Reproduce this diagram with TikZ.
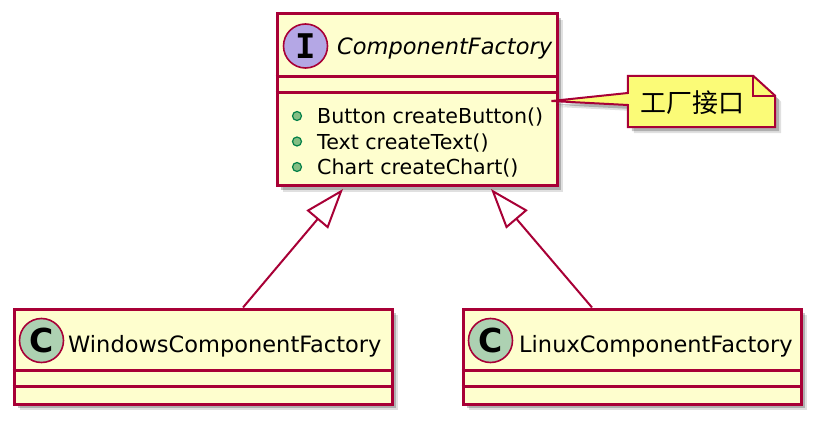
\documentclass[tikz,border=0pt]{standalone}
\usepackage{fontspec}
\setmainfont{DejaVu Sans}
\setmonofont{DejaVu Sans Mono}
\newfontfamily\notefont{Noto Sans CJK SC}
\usetikzlibrary{positioning,shadows,arrows.meta,calc}
\definecolor{umlred}{HTML}{A80036}
\definecolor{classbg}{HTML}{FEFECE}
\definecolor{notebg}{HTML}{FBFB77}
\definecolor{ifacespot}{HTML}{B4A7E5}
\definecolor{classspot}{HTML}{ADD1B2}
\definecolor{methfill}{HTML}{84BE84}
\definecolor{methdraw}{HTML}{038048}

\begin{document}
\begin{tikzpicture}[x=1pt, y=-1pt, >={Triangle[open,length=40pt,width=28pt]}, line join=miter]
   \tikzstyle{umlshadow}=[drop shadow={shadow xshift=6pt, shadow yshift=-6pt, fill=black, opacity=.12},
      drop shadow={shadow xshift=4pt, shadow yshift=-4pt, fill=black, opacity=.22}]
   \tikzstyle{classbox}=[rectangle, draw=umlred, fill=classbg, line width=3pt, inner sep=0pt, umlshadow]
   \tikzstyle{sep}=[draw=umlred, line width=3pt]
   \tikzstyle{spot}=[circle, draw=umlred, line width=1.6pt, minimum size=44pt, inner sep=0pt]
   \tikzstyle{title}=[anchor=base west, inner sep=0pt, font=\fontsize{22.5}{27}\selectfont]
   \tikzstyle{method}=[anchor=base west, inner sep=0pt, font=\fontsize{20.6}{25}\selectfont]
   \tikzstyle{visib}=[circle, fill=methfill, draw=methdraw, line width=1.2pt, minimum size=9pt, inner sep=0pt]
   \tikzstyle{extends}=[->, draw=umlred, line width=2pt]
   \tikzstyle{notebox}=[draw=umlred, fill=notebg, line width=2pt, umlshadow]

   \useasboundingbox (0,0) rectangle (826,430);

   % interface
   \node[classbox, minimum width=280pt, minimum height=172pt] (factory) at (417,100) {};
   \draw[sep] ($(factory.north west)+(0,64)$) -- ($(factory.north east)+(0,64)$);
   \draw[sep] ($(factory.north west)+(0,80)$) -- ($(factory.north east)+(0,80)$);
   \node[spot, fill=ifacespot, font=\fontsize{34}{34}\selectfont\ttfamily\bfseries] (factory_spot) at ($(factory.north west)+(30,33.5)$) {I};
   \node[title, font=\fontsize{22.5}{27}\selectfont\itshape] (factory_name) at (337,55) {ComponentFactory};
   \foreach \txt [count=\i] in {Button createButton(), Text createText(), Chart createChart()}{
      \node[visib] (vis\i) at (297,{116+25.5*(\i-1)}) {};
      \node[method] (meth\i) at (317,{124+25.5*(\i-1)}) {\txt};
   }

   % implementations
   \node[classbox, minimum width=378pt, minimum height=95pt] (windows) at (203,356.5) {};
   \draw[sep] ($(windows.north west)+(0,63)$) -- ($(windows.north east)+(0,63)$);
   \draw[sep] ($(windows.north west)+(0,79)$) -- ($(windows.north east)+(0,79)$);
   \node[spot, fill=classspot, font=\fontsize{33}{33}\selectfont\bfseries] (windows_spot) at ($(windows.north west)+(29,33)$) {C};
   \node[title] (windows_name) at (68,352) {WindowsComponentFactory};

   \node[classbox, minimum width=338pt, minimum height=95pt] (linux) at (632,356.5) {};
   \draw[sep] ($(linux.north west)+(0,63)$) -- ($(linux.north east)+(0,63)$);
   \draw[sep] ($(linux.north west)+(0,79)$) -- ($(linux.north east)+(0,79)$);
   \node[spot, fill=classspot, font=\fontsize{33}{33}\selectfont\bfseries] (linux_spot) at ($(linux.north west)+(29,33)$) {C};
   \node[title] (linux_name) at (519,352) {LinuxComponentFactory};

   % note
   \node[minimum width=147pt, minimum height=51pt, inner sep=0pt] (note) at (701.5,101.5) {};
   \path[notebox] (note.north west) -- ([xshift=-22pt]note.north east) -- ([yshift=-20pt]note.north east)
      -- (note.south east) -- (note.south west) -- ([yshift=-3.5pt]note.west)
      -- ([xshift=-7pt,yshift=-1pt]factory.east) -- ([yshift=8.5pt]note.west) -- cycle;
   \draw[draw=umlred, line width=2pt] ([xshift=-22pt]note.north east) -- ([xshift=-22pt,yshift=-20pt]note.north east)
      -- ([yshift=-20pt]note.north east);
   \node[inner sep=0pt, font=\fontsize{26}{26}\notefont] (note_text) at (692,102.5) {工厂接口};

   \path
   ([xshift=40pt]windows.north)
      edge [extends] ([xshift=-74pt,yshift=-1.5pt]factory.south)
   ([xshift=-40pt]linux.north)
      edge [extends] ([xshift=74pt,yshift=-1.5pt]factory.south)
   ;
\end{tikzpicture}
\end{document}
